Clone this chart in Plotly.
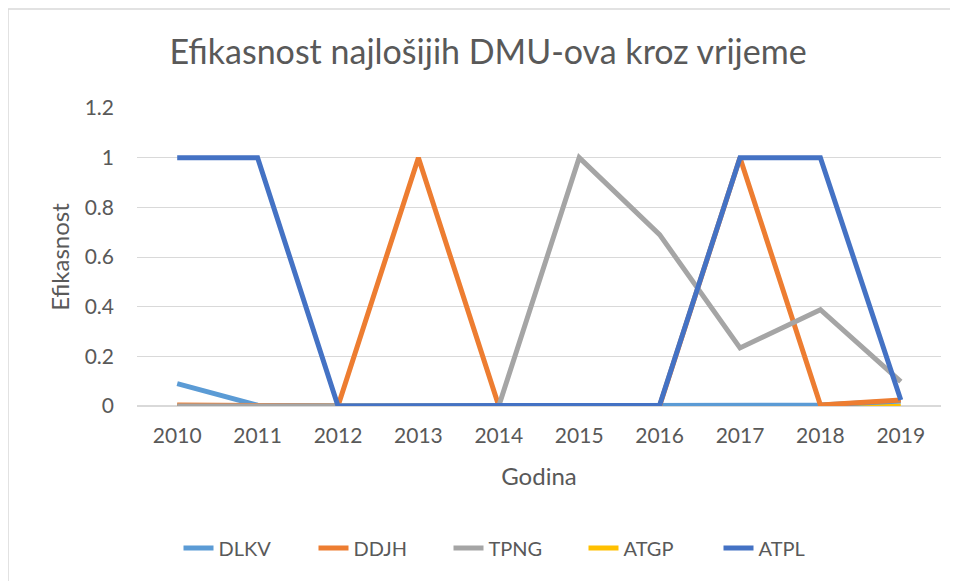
import plotly.graph_objects as go

years = ["2010", "2011", "2012", "2013", "2014", "2015", "2016", "2017", "2018", "2019"]
DLKV = [0.09, 0.003, 0.0, 0.0, 0.0, 0.0, 0.0, 0.0, 0.004, 0.02]
DDJH = [0.004, 0.004, 0.0, 1.0, 0.0, 0.0, 0.0, 1.0, 0.004, 0.024]
TPNG = [0.0, 0.0, 0.0, 0.0, 0.0, 1.0, 0.69, 0.234, 0.388, 0.098]
ATGP = [0.0, 0.0, 0.0, 0.0, 0.0, 0.0, 0.0, 0.0, 0.0, 0.0]
ATPL = [1.0, 1.0, 0.0, 0.0, 0.0, 0.004, 0.003, 1.0, 1.0, 0.024]
y_ticks = [0, 0.2, 0.4, 0.6, 0.8, 1, 1.2]
y_tick_labels = ["0", "0.2", "0.4", "0.6", "0.8", "1", "1.2"]

series = [
    ("ATGP", ATGP, "#FFC000", 4),
    ("DLKV", DLKV, "#5B9BD5", 1),
    ("DDJH", DDJH, "#ED7D31", 2),
    ("TPNG", TPNG, "#A5A5A5", 3),
    ("ATPL", ATPL, "#4472C4", 5),
]

font = "Lato"
fig = go.Figure()
for name, vals, color, rank in series:
    fig.add_trace(go.Scatter(
        x=years, y=vals, name=name, mode="lines",
        line=dict(color=color, width=5),
        legendrank=rank,
    ))

fig.update_layout(
    width=950, height=573,
    margin=dict(l=129, r=17, t=100, b=175),
    paper_bgcolor="white", plot_bgcolor="white",
    font=dict(family=font, color="#595959"),
    title=dict(text="Efikasnost najlošijih DMU-ova kroz vrijeme",
               xref="paper", x=(480 - 129) / 804, xanchor="center",
               y=1 - 44 / 573, yanchor="middle",
               font=dict(size=34, color="#595959", family=font)),
    xaxis=dict(type="category", range=[-0.5, 9.5], showgrid=False, zeroline=False,
               showline=False, ticks="", ticklabelstandoff=15,
               tickfont=dict(size=21, color="#595959"),
               title=dict(text="Godina", font=dict(size=24, color="#595959"), standoff=22)),
    yaxis=dict(range=[0, 1.2], tickvals=y_ticks, ticktext=y_tick_labels,
               showgrid=True, gridcolor="#D9D9D9", gridwidth=1,
               zeroline=True, zerolinecolor="#D9D9D9", showline=False,
               ticks="", ticklabelstandoff=22,
               tickfont=dict(size=21, color="#595959"),
               title=dict(text="Efikasnost", font=dict(size=24, color="#595959"), standoff=8)),
    legend=dict(orientation="h", x=(508 - 129) / 804, xanchor="center",
                y=(398 - 540) / 298, yanchor="middle",
                font=dict(size=20, color="#595959"), traceorder="normal",
                itemwidth=30, entrywidth=90, entrywidthmode="pixels"),
    showlegend=True,
)

fig.add_shape(type="rect", xref="paper", yref="paper",
              x0=(0 - 129) / 804, x1=1.05, y0=-1.0, y1=(398 - 1) / 298,
              line=dict(color="#D9D9D9", width=1.5), fillcolor="rgba(0,0,0,0)",
              layer="below")

fig.write_html("out.html")
